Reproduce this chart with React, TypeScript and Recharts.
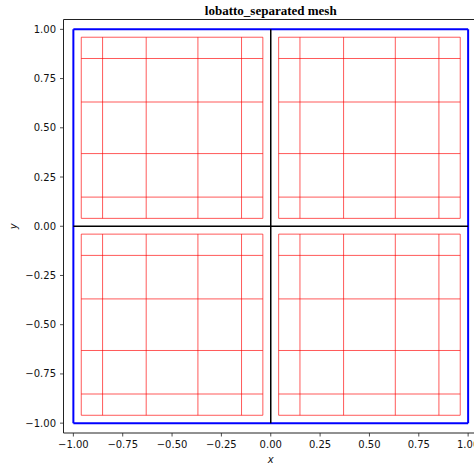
import React from 'react';
import { ComposedChart, XAxis, YAxis, ReferenceLine, ReferenceArea, Label } from 'recharts';

const xTicks = [-1, -0.75, -0.5, -0.25, 0, 0.25, 0.5, 0.75, 1];
const yTicks = [-1, -0.75, -0.5, -0.25, 0, 0.25, 0.5, 0.75, 1];
const negNodes = [-0.96, -0.852, -0.631, -0.369, -0.148, -0.04];
const posNodes = [0.04, 0.148, 0.369, 0.631, 0.852, 0.96];
const subdomains = [
  { xs: negNodes, ys: posNodes },
  { xs: posNodes, ys: posNodes },
  { xs: negNodes, ys: negNodes },
  { xs: posNodes, ys: negNodes },
];
const outerBox = [-1, 1];
const axisDomain: [number, number] = [-1.05, 1.05];
const title = 'lobatto_separated mesh';

const fmt = (v: number) => (v < 0 ? '\u2212' : '') + Math.abs(v).toFixed(2);

const tickStyle = { fontFamily: 'DejaVu Sans', fontSize: 10, fill: '#111' };

export default function App() {
  const redSegs: { x1: number; y1: number; x2: number; y2: number }[] = [];
  subdomains.forEach((s) => {
    const xmin = s.xs[0], xmax = s.xs[s.xs.length - 1];
    const ymin = s.ys[0], ymax = s.ys[s.ys.length - 1];
    s.xs.forEach((xv) => redSegs.push({ x1: xv, y1: ymin, x2: xv, y2: ymax }));
    s.ys.forEach((yv) => redSegs.push({ x1: xmin, y1: yv, x2: xmax, y2: yv }));
  });
  const [lo, hi] = outerBox;
  const blueSegs = [
    { x1: lo, y1: lo, x2: hi, y2: lo },
    { x1: lo, y1: hi, x2: hi, y2: hi },
    { x1: lo, y1: lo, x2: lo, y2: hi },
    { x1: hi, y1: lo, x2: hi, y2: hi },
  ];
  return (
    <div style={{ position: 'fixed', left: 0, top: 0, width: 474, height: 466, overflow: 'hidden', background: '#fff' }}>
      <ComposedChart width={478} height={466} data={[]} margin={{ top: 19.5, right: 0, bottom: 3, left: 8.5 }}>
        <XAxis
          type="number"
          dataKey="x"
          domain={axisDomain}
          ticks={xTicks}
          tickFormatter={fmt}
          allowDataOverflow
          height={30}
          tickSize={3.5}
          tickMargin={4}
          axisLine={false}
          tickLine={{ stroke: '#222', strokeWidth: 0.8 }}
          tick={tickStyle}
        >
          <Label
            content={(p: any) => {
              const vb = p.viewBox;
              return (
                <text x={vb.x + vb.width / 2} y={vb.y + 30} textAnchor="middle" fontFamily="DejaVu Sans" fontStyle="italic" fontSize={10} fill="#111">
                  x
                </text>
              );
            }}
          />
        </XAxis>
        <YAxis
          type="number"
          dataKey="y"
          domain={axisDomain}
          ticks={yTicks}
          tickFormatter={fmt}
          allowDataOverflow
          width={55}
          tickSize={3.5}
          tickMargin={4}
          axisLine={false}
          tickLine={{ stroke: '#222', strokeWidth: 0.8 }}
          tick={tickStyle}
        >
          <Label
            content={(p: any) => {
              const vb = p.viewBox;
              const cx = vb.x + 8.5;
              const cy = vb.y + vb.height / 2;
              return (
                <text x={cx} y={cy} transform={`rotate(-90, ${cx}, ${cy})`} textAnchor="middle" fontFamily="DejaVu Sans" fontStyle="italic" fontSize={10} fill="#111">
                  y
                </text>
              );
            }}
          />
        </YAxis>
        {redSegs.map((s, i) => (
          <ReferenceLine
            key={'r' + i}
            segment={[{ x: s.x1, y: s.y1 }, { x: s.x2, y: s.y2 }]}
            stroke="#ff0000"
            strokeOpacity={0.65}
            strokeWidth={1}
            ifOverflow="visible"
          />
        ))}
        {blueSegs.map((s, i) => (
          <ReferenceLine
            key={'b' + i}
            segment={[{ x: s.x1, y: s.y1 }, { x: s.x2, y: s.y2 }]}
            stroke="#0000ff"
            strokeWidth={2}
            ifOverflow="visible"
          />
        ))}
        <ReferenceLine segment={[{ x: lo, y: 0 }, { x: hi, y: 0 }]} stroke="#000" strokeWidth={1.5} ifOverflow="visible" />
        <ReferenceLine segment={[{ x: 0, y: lo }, { x: 0, y: hi }]} stroke="#000" strokeWidth={1.5} ifOverflow="visible" />
        <ReferenceArea
          x1={axisDomain[0]}
          x2={axisDomain[1]}
          y1={axisDomain[0]}
          y2={axisDomain[1]}
          fill="none"
          stroke="#222"
          strokeWidth={1}
          ifOverflow="visible"
        >
          <Label
            content={(p: any) => {
              const vb = p.viewBox;
              return (
                <text x={vb.x + vb.width / 2} y={vb.y - 4.5} textAnchor="middle" fontFamily="'Liberation Serif', 'Times New Roman', serif" fontWeight="bold" fontSize={13} fill="#000">
                  {title}
                </text>
              );
            }}
          />
        </ReferenceArea>
      </ComposedChart>
    </div>
  );
}
